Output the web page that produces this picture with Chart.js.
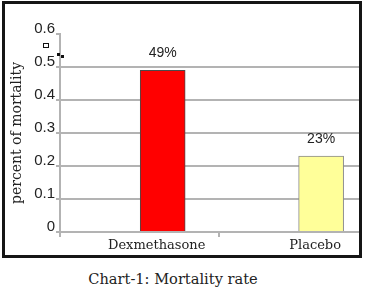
<!DOCTYPE html>
<html>
<head>
<meta charset="utf-8">
<script src="https://cdn.jsdelivr.net/npm/chart.js@4"></script>
<style>
  body { margin: 0; background: #fff; }
  #frame { position: absolute; left: 2px; top: 1px; width: 354px; height: 251px; border: 3px solid #151515; }
  #frame canvas { display: block; }
  #caption { position: absolute; left: 0; top: 270px; width: 346px; text-align: center;
    font: 14.6px "DejaVu Serif", serif; color: #222; }
  /* pequenas marcas de seleção que aparecem na imagem original */
  .alca { position: absolute; background: #111; width: 3px; height: 3px; }
  #caixa { position: absolute; left: 43px; top: 43px; width: 4px; height: 3px; border: 1px solid #111; background: #fff; }
</style>
</head>
<body>
<div id="frame"><canvas id="grafico" width="354" height="251"></canvas></div>
<div id="caixa"></div>
<div class="alca" style="left:57px;top:53px"></div>
<div class="alca" style="left:61px;top:55px"></div>
<div id="caption">Chart-1: Mortality rate</div>
<script>
// dados do gráfico
const grupos = ['Dexmethasone', 'Placebo'];
const mortalidade = [0.49, 0.23];
const posicoes = [1, 2];
const coresBarra = ['#ff0000', '#ffff99'];
const coresBorda = ['#4a4a4a', '#8a8a8a'];

const cinza = '#b3b3b3';

// rótulos de porcentagem acima das barras
const rotulos = {
  id: 'rotulos',
  afterDatasetsDraw(chart) {
    const c = chart.ctx;
    const meta = chart.getDatasetMeta(0);
    c.save();
    c.font = '14px "Liberation Sans", Arial, sans-serif';
    c.fillStyle = '#222';
    c.textAlign = 'center';
    c.textBaseline = 'alphabetic';
    meta.data.forEach((bar, i) => {
      c.fillText(Math.round(mortalidade[i] * 100) + '%', bar.x, bar.y - 13);
    });
    c.restore();
  }
};

const ctx = document.getElementById('grafico').getContext('2d');
const chart = new Chart(ctx, {
  type: 'bar',
  data: {
    datasets: [{
      data: posicoes.map((x, i) => ({ x, y: mortalidade[i] })),
      backgroundColor: coresBarra,
      borderColor: coresBorda,
      borderWidth: 1,
      barThickness: 45
    }]
  },
  options: {
    responsive: false,
    animation: false,
    layout: { padding: { top: 30, right: 0, left: 0, bottom: 0 } },
    plugins: { legend: { display: false }, tooltip: { enabled: false } },
    scales: {
      x: {
        type: 'linear',
        offset: false,
        min: 0.352,
        max: 2.239,
        afterBuildTicks: (s) => { s.ticks = [{ value: 0.352 }, { value: 1 }, { value: 1.358 }, { value: 2 }]; },
        afterFit: (s) => { s.height = 23; },
        grid: {
          offset: false,
          drawOnChartArea: false,
          drawTicks: true,
          tickLength: 5,
          lineWidth: 2,
          color: (c) => (c.tick && (c.tick.value === 1 || c.tick.value === 2)) ? 'transparent' : cinza
        },
        border: { display: false },
        ticks: {
          autoSkip: false,
          maxRotation: 0,
          labelOffset: -6,
          padding: 1,
          color: '#222',
          font: { family: '"DejaVu Serif", serif', size: 13 },
          callback: (v) => {
            const i = posicoes.indexOf(v);
            return i >= 0 ? grupos[i] : '';
          }
        }
      },
      y: {
        min: 0,
        max: 0.6,
        afterFit: (s) => { s.width = 55; },
        grid: {
          lineWidth: 2,
          color: (c) => (c.tick && c.tick.value > 0.55) ? 'transparent' : cinza,
          tickColor: cinza,
          tickLength: 4
        },
        border: { color: cinza, width: 2 },
        ticks: {
          stepSize: 0.1,
          padding: 1,
          labelOffset: -5,
          color: '#222',
          font: { family: '"Liberation Sans", Arial, sans-serif', size: 15 },
          callback: (v) => v === 0 ? '0' : v.toFixed(1)
        },
        title: {
          display: true,
          text: 'percent of mortality',
          color: '#222',
          padding: { top: 4, bottom: 0 },
          font: { family: '"DejaVu Serif", serif', size: 14 }
        }
      }
    }
  },
  plugins: [rotulos]
});
</script>
</body>
</html>
